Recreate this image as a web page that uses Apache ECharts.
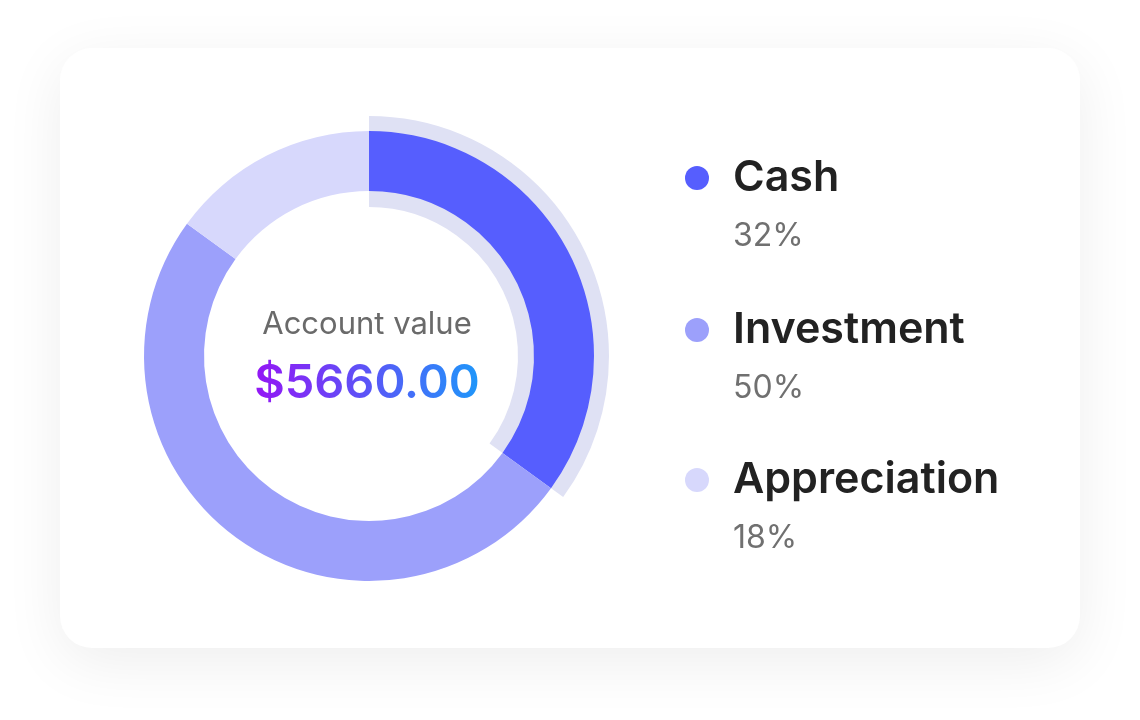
<!DOCTYPE html>
<html>
<head>
<meta charset="utf-8">
<script src="https://cdn.jsdelivr.net/npm/echarts@6/dist/echarts.min.js"></script>
<style>
  html, body { margin: 0; padding: 0; background: #ffffff; }
  #wrap { position: relative; width: 1140px; height: 720px; }
  #chart { width: 1140px; height: 720px; }
  .center-txt { position: absolute; left: 0; width: 734px; text-align: center; font-family: Inter, "Noto Sans", sans-serif; white-space: nowrap; pointer-events: none; }
  #ctitle { top: 304px; font-size: 31px; font-weight: 400; color: #6A6A6A; line-height: 38px; }
  #cvalue { top: 352px; font-size: 47px; font-weight: 600; line-height: 58px; }
  #cvalue span {
    background: linear-gradient(90deg, #9416F5 0%, #5B55F7 50%, #1E97FA 100%);
    -webkit-background-clip: text; background-clip: text;
    -webkit-text-fill-color: transparent; color: transparent;
  }
</style>
</head>
<body>
<div id="wrap">
  <div id="chart"></div>
  <div id="ctitle" class="center-txt"></div>
  <div id="cvalue" class="center-txt"><span></span></div>
</div>
<script>
// ---- data ----
const categories = ['Cash', 'Investment', 'Appreciation'];
const sliceValues = [35, 50, 15];            // arc shares as drawn
const percentLabels = ['32%', '50%', '18%'];  // legend texts as printed
const sliceColors = ['#565EFE', '#9CA0FB', '#D7D8FC'];
const highlightIndex = 0;
const centerTitle = 'Account value';
const centerValue = '$5660.00';

document.getElementById('ctitle').textContent = centerTitle;
document.querySelector('#cvalue span').textContent = centerValue;

const FONT = 'Inter, "Noto Sans", sans-serif';
const cx = 369, cy = 356;

const chart = echarts.init(document.getElementById('chart'), null, { renderer: 'canvas' });

const mainData = categories.map((c, i) => ({
  name: c, value: sliceValues[i], itemStyle: { color: sliceColors[i] }
}));
const haloData = categories.map((c, i) => ({
  name: c, value: sliceValues[i],
  itemStyle: { color: i === highlightIndex ? '#DFE1F4' : 'rgba(0,0,0,0)' }
}));

const legendGraphics = [];
const rowY = [178, 330, 480];
categories.forEach((c, i) => {
  legendGraphics.push({
    type: 'circle', shape: { cx: 697, cy: rowY[i], r: 12 },
    style: { fill: sliceColors[i] }, z: 10
  });
  legendGraphics.push({
    type: 'text', x: 733, y: rowY[i],
    style: { text: c, font: '600 43px ' + FONT, fill: '#222222', textVerticalAlign: 'middle', textAlign: 'left' },
    z: 10
  });
  legendGraphics.push({
    type: 'text', x: 733, y: rowY[i] + 58,
    style: { text: percentLabels[i], font: '400 32px ' + FONT, fill: '#707070', textVerticalAlign: 'middle', textAlign: 'left' },
    z: 10
  });
});

const option = {
  backgroundColor: '#ffffff',
  animation: false,
  graphic: [
    {
      type: 'rect', shape: { x: 60, y: 48, width: 1020, height: 600, r: 32 },
      style: { fill: '#ffffff', shadowBlur: 60, shadowColor: 'rgba(0,0,0,0.07)', shadowOffsetY: 14 },
      z: -10
    }
  ].concat(legendGraphics),
  series: [
    {
      type: 'pie', name: 'halo', center: [cx, cy], radius: [149, 240],
      startAngle: 90, clockwise: true, silent: true, z: 1,
      label: { show: false }, labelLine: { show: false },
      emphasis: { disabled: true },
      data: haloData
    },
    {
      type: 'pie', name: 'main', center: [cx, cy], radius: [165, 225],
      startAngle: 90, clockwise: true, silent: true, z: 2,
      label: { show: false }, labelLine: { show: false },
      emphasis: { disabled: true },
      data: mainData
    }
  ]
};
chart.setOption(option);
</script>
</body>
</html>
